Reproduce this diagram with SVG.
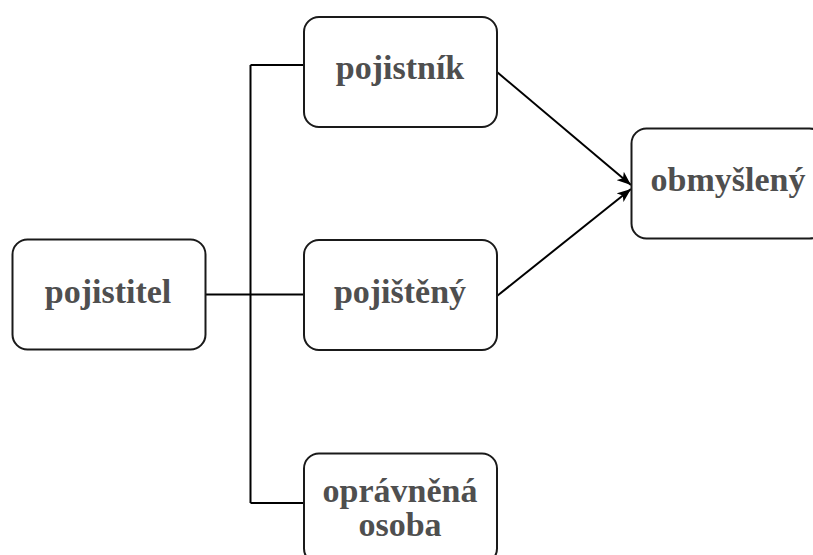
<svg xmlns="http://www.w3.org/2000/svg" width="813" height="555" viewBox="0 0 813 555">
<defs>
<style>
.box{fill:#fff;stroke:#1a1a1a;stroke-width:2}
.lbl{font-family:"Liberation Serif","Times New Roman",serif;font-weight:bold;font-size:34px;fill:#4f4f4f;text-anchor:middle}
.con{fill:none;stroke:#000;stroke-width:2}
</style>
<marker id="arr" viewBox="0 0 14 11" refX="14" refY="5.5" markerWidth="14" markerHeight="11" markerUnits="userSpaceOnUse" orient="auto">
<path d="M0 0 L14 5.5 L0 11 L3.5 5.5 Z" fill="#000"/>
</marker>
</defs>
<rect width="813" height="555" fill="#fff"/>
<g id="connectors">
<path class="con" d="M205.5 294.5 H304"/>
<path class="con" d="M250.5 65 V503"/>
<path class="con" d="M250.5 65 H304"/>
<path class="con" d="M250.5 503 H304"/>
<path class="con" d="M497 72 L631 185" marker-end="url(#arr)"/>
<path class="con" d="M497 296 L631 189" marker-end="url(#arr)"/>
</g>
<g id="pojistitel">
<rect class="box" x="12.5" y="239.5" width="193" height="110" rx="15"/>
<text class="lbl" x="108" y="303">pojistitel</text>
</g>
<g id="pojistnik">
<rect class="box" x="304" y="17" width="193" height="110" rx="15"/>
<text class="lbl" x="400" y="79">pojistník</text>
</g>
<g id="pojisteny">
<rect class="box" x="304" y="240" width="193" height="110" rx="15"/>
<text class="lbl" x="400" y="303">pojištěný</text>
</g>
<g id="opravnena">
<rect class="box" x="304" y="453.5" width="193" height="110" rx="15"/>
<text class="lbl" x="400" y="502">oprávněná</text>
<text class="lbl" x="400" y="536">osoba</text>
</g>
<g id="obmysleny">
<rect class="box" x="631.5" y="128.5" width="193" height="110" rx="15"/>
<text class="lbl" x="728" y="191">obmyšlený</text>
</g>
</svg>
